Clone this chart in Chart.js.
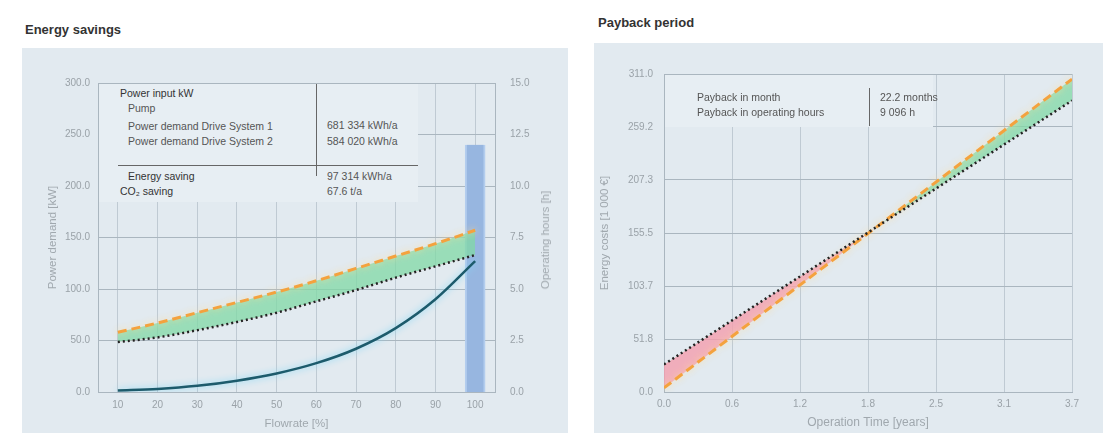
<!DOCTYPE html>
<html>
<head>
<meta charset="utf-8">
<script src="https://cdn.jsdelivr.net/npm/chart.js@4/dist/chart.umd.min.js"></script>
<style>
  body { margin: 0; width: 1106px; height: 433px; background: #fff; position: relative; overflow: hidden;
         font-family: "Liberation Sans", Arial, sans-serif; }
  .title { position: absolute; font-weight: bold; font-size: 13px; color: #333; }
  .panel { position: absolute; background: #e2eaf0; }
  .box { position: absolute; background: #e7eef3; }
  .t { position: absolute; font-size: 10.5px; color: #555; white-space: nowrap; line-height: 12px; }
  .b { color: #333; }
  .vline { position: absolute; width: 1px; background: #666; }
  .hline { position: absolute; height: 1px; background: #666; }
  .ytitle { position: absolute; font-size: 11.5px; color: #a0a8ae; white-space: nowrap;
            transform: translate(-50%, -50%) rotate(-90deg); }
  canvas { position: absolute; }
</style>
</head>
<body>
<div class="title" style="left:25px;top:22px;">Energy savings</div>
<div class="title" style="left:598px;top:15px;">Payback period</div>

<div class="panel" style="left:22px;top:48px;width:546px;height:385px;"></div>
<div class="panel" style="left:594px;top:43px;width:509px;height:390px;"></div>

<canvas id="savings" width="546" height="385" style="left:22px;top:48px;"></canvas>
<canvas id="payback" width="506" height="390" style="left:594px;top:43px;"></canvas>

<!-- info table, energy savings -->
<div class="box" style="left:99px;top:84px;width:319px;height:118px;"></div>
<div class="vline" style="left:316px;top:84px;height:92px;"></div>
<div class="hline" style="left:118px;top:165px;width:300px;"></div>
<div class="t b" style="left:120px;top:87px;">Power input kW</div>
<div class="t" style="left:128px;top:102px;">Pump</div>
<div class="t" style="left:128px;top:120px;">Power demand Drive System 1</div>
<div class="t" style="left:128px;top:135px;">Power demand Drive System 2</div>
<div class="t" style="left:327px;top:119px;">681 334 kWh/a</div>
<div class="t" style="left:327px;top:135px;">584 020 kWh/a</div>
<div class="t b" style="left:128px;top:170px;">Energy saving</div>
<div class="t b" style="left:120px;top:185px;">CO₂ saving</div>
<div class="t" style="left:327px;top:170px;">97 314 kWh/a</div>
<div class="t" style="left:327px;top:185px;">67.6 t/a</div>
<div class="ytitle" style="left:545px;top:240px;">Operating hours [h]</div>

<!-- info table, payback -->
<div class="box" style="left:665px;top:75px;width:268px;height:52px;"></div>
<div class="vline" style="left:869px;top:88px;height:38px;"></div>
<div class="t" style="left:697px;top:91px;">Payback in month</div>
<div class="t" style="left:697px;top:106px;">Payback in operating hours</div>
<div class="t" style="left:880px;top:91px;">22.2 months</div>
<div class="t" style="left:880px;top:106px;">9 096 h</div>

<script>
// energy savings chart data
const flowLabels = ['10', '20', '30', '40', '50', '60', '70', '80', '90', '100'];
const driveSystem1 = [58, 67, 77, 87, 97, 108, 120, 132, 144, 157];
const driveSystem2 = [48.5, 53, 60, 68, 77, 88, 99, 111, 122, 133];
const pumpPower = [1.5, 3, 6, 11, 18, 28, 42, 62, 90, 127];
const operatingHours = [null, null, null, null, null, null, null, null, null, 12.0];
const powerTicks = ['0.0', '50.0', '100.0', '150.0', '200.0', '250.0', '300.0'];
const hoursTicks = ['0.0', '2.5', '5.0', '7.5', '10.0', '12.5', '15.0'];

// payback chart data
const yearsPoints = [0, 3.7];
const costSystem1 = [4, 306];
const costSystem2 = [27, 285];
const yearTicks = ['0.0', '0.6', '1.2', '1.8', '2.5', '3.1', '3.7'];
const costTicks = ['0.0', '51.8', '103.7', '155.5', '207.3', '259.2', '311.0'];

const tickFont = { size: 10, family: '"Liberation Sans", Arial, sans-serif' };
const titleFont = { size: 11.5, family: '"Liberation Sans", Arial, sans-serif' };
const tickColor = '#9aa2a8';
const titleColor = '#a0a8ae';
const gridH = '#aab6bf';
const gridV = '#bfcad3';
const green = 'rgba(128, 216, 166, 0.75)';
const pink = 'rgba(244, 158, 174, 0.8)';

const glowPlugin = {
  id: 'glow',
  beforeDatasetDraw(chart, args) {
    const ds = chart.data.datasets[args.index];
    if (ds.glow) {
      chart.ctx.save();
      chart.ctx.shadowColor = ds.glow;
      chart.ctx.shadowBlur = 7;
    }
  },
  afterDatasetDraw(chart, args) {
    if (chart.data.datasets[args.index].glow) chart.ctx.restore();
  }
};

function evenTicks(labels, max) {
  return function(scale) {
    scale.ticks = labels.map((l, i) => ({ value: max * i / (labels.length - 1) }));
  };
}

new Chart(document.getElementById('savings'), {
  type: 'bar',
  data: {
    labels: flowLabels,
    datasets: [
      {
        type: 'line', label: 'Drive System 1', data: driveSystem1, yAxisID: 'y', order: 2,
        borderColor: '#f4a23e', borderWidth: 3, borderDash: [9, 5], pointRadius: 0,
        cubicInterpolationMode: 'monotone', glow: 'rgba(255, 220, 150, 0.9)',
        fill: { target: 1, above: green, below: pink }
      },
      {
        type: 'line', label: 'Drive System 2', data: driveSystem2, yAxisID: 'y', order: 1,
        borderColor: '#222', borderWidth: 2.5, borderDash: [2, 3], pointRadius: 0,
        cubicInterpolationMode: 'monotone', fill: false
      },
      {
        type: 'line', label: 'Pump', data: pumpPower, yAxisID: 'y', order: 0,
        borderColor: '#1d5b6c', borderWidth: 2.5, pointRadius: 0,
        cubicInterpolationMode: 'monotone', glow: 'rgba(130, 215, 245, 1)', fill: false
      },
      {
        type: 'bar', label: 'Operating hours', data: operatingHours, yAxisID: 'y1', order: 5,
        backgroundColor: '#97b6e0', borderColor: '#b3cdee', borderWidth: { left: 2, right: 2 },
        barThickness: 20
      }
    ]
  },
  options: {
    responsive: false,
    animation: false,
    devicePixelRatio: 1,
    layout: { padding: { top: 35, left: 0, right: 0, bottom: 0 } },
    plugins: { legend: { display: false }, tooltip: { enabled: false } },
    scales: {
      x: {
        grid: { color: gridV, offset: false, drawTicks: false },
        border: { color: gridH },
        ticks: { font: tickFont, color: tickColor, padding: 7, maxRotation: 0 },
        title: { display: true, text: 'Flowrate [%]', font: titleFont, color: titleColor, padding: { top: 0, bottom: 2 } },
        afterFit: s => { s.height = 41; }
      },
      y: {
        position: 'left', min: 0, max: 300,
        afterBuildTicks: evenTicks(powerTicks, 300),
        grid: { color: gridH, drawTicks: false },
        border: { color: gridH },
        ticks: { font: tickFont, color: tickColor, padding: 8, callback: (v, i) => powerTicks[i] },
        title: { display: true, text: 'Power demand [kW]', font: titleFont, color: titleColor, padding: { top: 24, bottom: 0 } },
        afterFit: s => { s.width = 76; }
      },
      y1: {
        position: 'right', min: 0, max: 15,
        afterBuildTicks: evenTicks(hoursTicks, 15),
        grid: { display: false, drawTicks: false },
        border: { color: gridH },
        ticks: { font: tickFont, color: tickColor, padding: 15, callback: (v, i) => hoursTicks[i] },
        afterFit: s => { s.width = 73; }
      }
    }
  },
  plugins: [glowPlugin]
});

new Chart(document.getElementById('payback'), {
  type: 'line',
  data: {
    datasets: [
      {
        label: 'Drive System 1', data: yearsPoints.map((x, i) => ({ x, y: costSystem1[i] })), order: 1,
        borderColor: '#f4a23e', borderWidth: 3, borderDash: [9, 5], pointRadius: 0,
        glow: 'rgba(255, 220, 150, 0.9)',
        fill: { target: 1, above: green, below: pink }
      },
      {
        label: 'Drive System 2', data: yearsPoints.map((x, i) => ({ x, y: costSystem2[i] })), order: 0,
        borderColor: '#222', borderWidth: 2.5, borderDash: [2, 3], pointRadius: 0, fill: false
      }
    ]
  },
  options: {
    responsive: false,
    animation: false,
    devicePixelRatio: 1,
    layout: { padding: { top: 31, left: 0, right: 28, bottom: 0 } },
    plugins: { legend: { display: false }, tooltip: { enabled: false } },
    scales: {
      x: {
        type: 'linear', min: 0, max: 3.7,
        afterBuildTicks: evenTicks(yearTicks, 3.7),
        grid: { color: gridV, drawTicks: false },
        border: { color: gridH },
        ticks: { font: tickFont, color: tickColor, padding: 6, maxRotation: 0, callback: (v, i) => yearTicks[i] },
        title: { display: true, text: 'Operation Time [years]', font: { ...titleFont, size: 12 }, color: titleColor, padding: { top: 0, bottom: 3 } },
        afterFit: s => { s.height = 41; }
      },
      y: {
        min: 0, max: 311,
        afterBuildTicks: evenTicks(costTicks, 311),
        grid: { color: gridH, drawTicks: false },
        border: { color: gridH },
        ticks: { font: tickFont, color: tickColor, padding: 11, callback: (v, i) => costTicks[i] },
        title: { display: true, text: 'Energy costs [1 000 €]', font: titleFont, color: titleColor, padding: { top: 4, bottom: 0 } },
        afterFit: s => { s.width = 70; }
      }
    }
  },
  plugins: [glowPlugin]
});
</script>
</body>
</html>
